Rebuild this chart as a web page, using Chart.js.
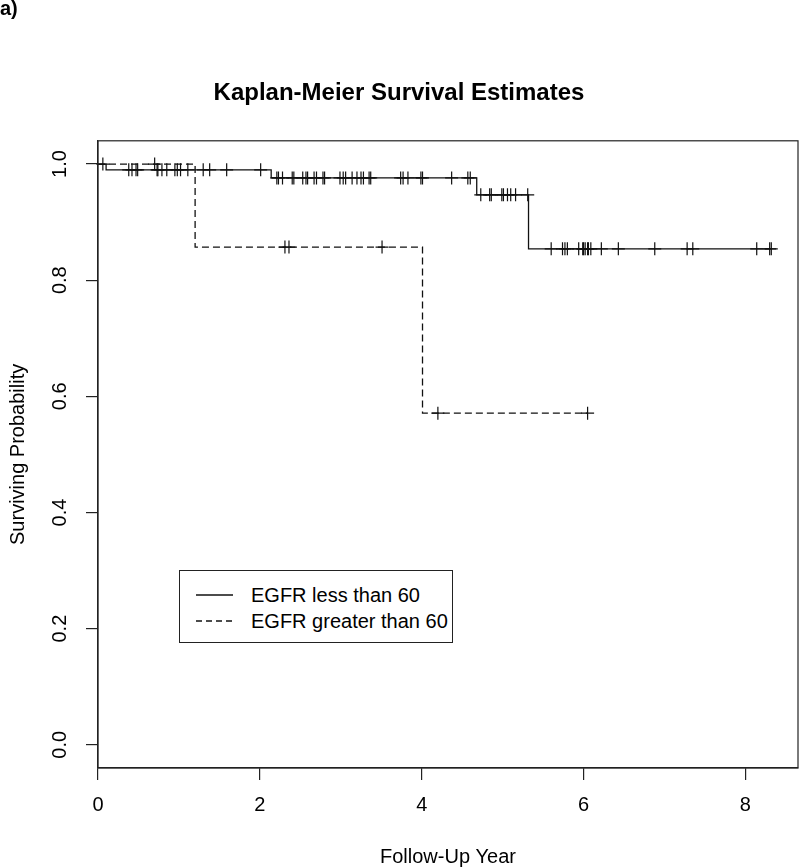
<!DOCTYPE html>
<html>
<head>
<meta charset="utf-8">
<script src="https://cdn.jsdelivr.net/npm/chart.js@4.4.1/dist/chart.umd.min.js"></script>
<style>
  body { margin: 0; background: #fff; }
  #wrap { position: relative; width: 800px; height: 867px; }
  #kmLegend {
    position: absolute; left: 179px; top: 570px; width: 274px; height: 73px;
    border: 1px solid #222; box-sizing: border-box; background: #fff;
    font: 20px "Liberation Sans", Arial, sans-serif; color: #000;
  }
  #kmLegend .row { position: absolute; left: 16px; height: 26px; display: flex; align-items: center; white-space: nowrap; }
  #kmLegend svg { margin-right: 18px; }
</style>
</head>
<body>
<div id="wrap">
  <canvas id="km" width="800" height="867"></canvas>
  <div id="kmLegend"></div>
</div>
<script>
// ── Kaplan-Meier, EGFR groups ───────────────

const FONT = '"Liberation Sans", Arial, sans-serif';

// EGFR < 60 : event times and survival after each step
const lessTimes = [0, 0.10, 2.14, 4.68, 5.32, 8.32];
const lessSurv  = [1.0, 0.990, 0.976, 0.947, 0.854, 0.854];
const lessCensor = [
  0.38, 0.42, 0.47, 0.49, 0.73, 0.74, 0.79, 0.85, 0.95, 0.98, 1.02, 1.11, 1.30, 1.38, 1.59, 2.01,
  2.21, 2.23, 2.28, 2.40, 2.42, 2.53, 2.57, 2.59, 2.67, 2.70, 2.78, 2.80, 2.99, 3.03, 3.06, 3.14,
  3.20, 3.25, 3.28, 3.35, 3.37, 3.74, 3.77, 3.83, 3.99, 4.01, 4.37, 4.57, 4.60,
  4.73, 4.84, 4.86, 4.99, 5.01, 5.06, 5.10, 5.16, 5.31,
  5.60, 5.74, 5.77, 5.80, 5.94, 5.99, 6.00, 6.02, 6.05, 6.06, 6.09, 6.22, 6.43, 6.88, 7.28, 7.35,
  8.14, 8.30, 8.32
];

// EGFR > 60
const greaterTimes  = [0, 1.20, 4.01, 6.05];
const greaterSurv   = [1.0, 0.857, 0.571, 0.571];
const greaterCensor = [0.06, 0.70, 2.31, 2.36, 3.51, 4.20, 6.05];

const xTicks = [0, 2, 4, 6, 8];
const yTicks = [0, 0.2, 0.4, 0.6, 0.8, 1.0];

// survival level of a step curve at time t
function levelAt(times, surv, t) {
  let s = surv[0];
  for (let i = 0; i < times.length; i++) if (times[i] <= t) s = surv[i];
  return s;
}

const curve = (times, surv) => times.map((t, i) => ({ x: t, y: surv[i] }));
const marks = (cens, times, surv) => cens.map(t => ({ x: t, y: levelAt(times, surv, t) }));

const datasets = [
  { label: 'EGFR less than 60', data: curve(lessTimes, lessSurv), showLine: true, stepped: true,
    borderColor: '#111', borderWidth: 1.3, pointRadius: 0, dash: [] },
  { label: 'EGFR greater than 60', data: curve(greaterTimes, greaterSurv), showLine: true, stepped: true,
    borderColor: '#111', borderWidth: 1.3, borderDash: [7, 4], pointRadius: 0, dash: [6, 4] },
  { label: '', data: marks(lessCensor, lessTimes, lessSurv), showLine: false, pointStyle: 'cross',
    pointRadius: 6.5, borderColor: '#111', borderWidth: 1.2, clip: false },
  { label: '', data: marks(greaterCensor, greaterTimes, greaterSurv), showLine: false, pointStyle: 'cross',
    pointRadius: 6.5, borderColor: '#111', borderWidth: 1.2, clip: false }
];

// legend box (inside plot, like R's legend())
document.getElementById('kmLegend').innerHTML = datasets.filter(d => d.label).map((d, i) => `
  <div class="row" style="top:${11 + i * 26}px">
    <svg width="37" height="4"><line x1="0" y1="2" x2="37" y2="2" stroke="#111" stroke-width="1.3"
      stroke-dasharray="${d.dash.join(',')}"/></svg>
    <span>${d.label}</span>
  </div>`).join('');

const boxPlugin = {
  id: 'r-box',
  afterDraw(chart) {
    const { ctx: c, chartArea: a } = chart;
    c.save();
    c.strokeStyle = '#222'; c.lineWidth = 1.2;
    c.strokeRect(a.left, a.top, a.right - a.left, a.bottom - a.top);
    c.fillStyle = '#000'; c.font = 'bold 20px ' + FONT;
    c.textBaseline = 'middle'; c.textAlign = 'left';
    c.fillText('a)', 0, 9);
    c.restore();
  }
};

new Chart(document.getElementById('km'), {
  type: 'scatter',
  data: { datasets },
  options: {
    responsive: false, animation: false, devicePixelRatio: 1,
    layout: { autoPadding: false, padding: { left: 0, right: 2, top: 0, bottom: 0 } },
    plugins: {
      legend: { display: false },
      tooltip: { enabled: false },
      title: {
        display: true, text: 'Kaplan-Meier Survival Estimates', color: '#000',
        font: { family: FONT, size: 24, weight: 'bold' },
        padding: { top: 79, bottom: 33 }
      }
    },
    scales: {
      x: {
        type: 'linear', min: 0, max: 8.65,
        afterBuildTicks: s => { s.ticks = xTicks.map(v => ({ value: v })); },
        afterFit: s => { s.height = 99; s.paddingLeft = 0; s.paddingRight = 0; },
        grid: { drawOnChartArea: false, drawTicks: true, tickLength: 12, tickColor: '#222', lineWidth: 1.2 },
        border: { display: true, color: '#222', width: 1.2 },
        ticks: { color: '#000', font: { family: FONT, size: 20 }, padding: 13, maxRotation: 0,
          callback: v => String(v) },
        title: { display: true, text: 'Follow-Up Year', color: '#000',
          font: { family: FONT, size: 20, lineHeight: 1 }, padding: { top: 0, bottom: 0 } }
      },
      y: {
        type: 'linear', min: -0.04, max: 1.04,
        afterBuildTicks: s => { s.ticks = yTicks.map(v => ({ value: v })); },
        afterFit: s => { s.width = 98; s.paddingTop = 0; s.paddingBottom = 0; },
        grid: { drawOnChartArea: false, drawTicks: true, tickLength: 12, tickColor: '#222', lineWidth: 1.2 },
        border: { display: true, color: '#222', width: 1.2 },
        ticks: { color: '#000', font: { family: FONT, size: 20 }, padding: 12,
          minRotation: 90, maxRotation: 90, crossAlign: 'center',
          callback: v => v.toFixed(1) },
        title: { display: true, text: 'Surviving Probability', color: '#000',
          font: { family: FONT, size: 20 }, padding: { top: 6, bottom: 0 } }
      }
    }
  },
  plugins: [boxPlugin]
});
</script>
</body>
</html>
